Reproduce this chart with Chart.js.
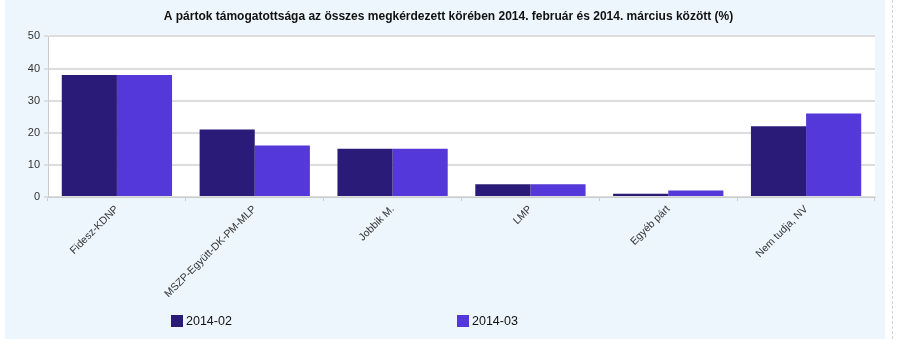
<!DOCTYPE html>
<html>
<head>
<meta charset="utf-8">
<script src="https://cdn.jsdelivr.net/npm/chart.js@4.4.1/dist/chart.umd.min.js"></script>
<style>
  html, body { margin: 0; padding: 0; background: #ffffff; }
  #wrap { position: relative; width: 897px; height: 339px; overflow: hidden; }
  #panel { position: absolute; left: 5px; top: 0; width: 880px; height: 339px; background: #eef6fd; }
  #dash { position: absolute; left: 892px; top: 0; width: 0; height: 339px; border-left: 1px dashed #c8d4e0; }
  #c { position: absolute; left: 0; top: 0; }
</style>
</head>
<body>
<div id="wrap">
  <div id="panel"></div>
  <div id="dash"></div>
  <canvas id="c" width="897" height="339"></canvas>
</div>
<script>
const titleText = "A pártok támogatottsága az összes megkérdezett körében 2014. február és 2014. március között (%)";
const categories = ["Fidesz-KDNP", "MSZP-Együtt-DK-PM-MLP", "Jobbik M.", "LMP", "Egyéb párt", "Nem tudja, NV"];
const seriesNames = ["2014-02", "2014-03"];
const values201402 = [38, 21, 15, 4, 1, 22];
const values201403 = [38, 16, 15, 4, 2, 26];
const yTicks = [0, 10, 20, 30, 40, 50];

const FONT = 'Arial, "Liberation Sans", sans-serif';

const plotBg = {
  id: 'plotBg',
  beforeDraw(chart) {
    const { ctx, chartArea: a } = chart;
    ctx.save();
    ctx.fillStyle = '#ffffff';
    ctx.fillRect(a.left, a.top, a.right - a.left, a.bottom - a.top);
    ctx.restore();
  }
};

// Legend drawn from the datasets, items spread like the original
const spreadLegend = {
  id: 'spreadLegend',
  afterDraw(chart) {
    const { ctx } = chart;
    const xs = [171, 457];
    const yc = 321;
    ctx.save();
    ctx.font = '12.5px ' + FONT;
    ctx.textBaseline = 'middle';
    chart.data.datasets.forEach((ds, i) => {
      const x = xs[i];
      ctx.fillStyle = ds.backgroundColor;
      ctx.fillRect(x, yc - 6, 12, 12);
      ctx.fillStyle = '#111111';
      ctx.fillText(ds.label, x + 15, yc + 1);
    });
    ctx.restore();
  }
};

new Chart(document.getElementById('c'), {
  type: 'bar',
  data: {
    labels: categories,
    datasets: [
      { label: seriesNames[0], data: values201402, backgroundColor: '#2b1b79', borderWidth: 0 },
      { label: seriesNames[1], data: values201403, backgroundColor: '#5438d9', borderWidth: 0 }
    ]
  },
  options: {
    responsive: false,
    animation: false,
    devicePixelRatio: 1,
    layout: { padding: { left: 0, right: 0, top: 0, bottom: 42 } },
    datasets: { bar: { categoryPercentage: 0.8, barPercentage: 1.0 } },
    plugins: {
      title: {
        display: true,
        text: titleText,
        color: '#111111',
        font: { family: FONT, size: 12, weight: 'bold' },
        padding: { top: 9, bottom: 13 }
      },
      legend: { display: false },
      tooltip: { enabled: false }
    },
    scales: {
      x: {
        offset: true,
        grid: { display: true, drawOnChartArea: false, drawTicks: true, tickLength: 4, color: '#cccccc', offset: true },
        border: { display: true, color: '#cccccc', width: 1 },
        ticks: {
          autoSkip: false,
          minRotation: 45,
          maxRotation: 45,
          color: '#333333',
          padding: 2,
          font: { family: FONT, size: 10.5 }
        },
        afterFit(scale) { scale.height = 100; }
      },
      y: {
        min: yTicks[0],
        max: yTicks[yTicks.length - 1],
        ticks: {
          stepSize: yTicks[1] - yTicks[0],
          autoSkip: false,
          color: '#333333',
          padding: 4,
          font: { family: FONT, size: 11 }
        },
        grid: { color: '#dddddd', lineWidth: 2, tickLength: 4, tickColor: '#dddddd' },
        border: { display: true, color: '#cccccc', width: 1 },
        afterFit(scale) { scale.width = 48; }
      },
      yRight: {
        position: 'right',
        display: true,
        grid: { display: false },
        border: { display: false },
        ticks: { display: false },
        afterFit(scale) { scale.width = 22; }
      }
    }
  },
  plugins: [plotBg, spreadLegend]
});
</script>
</body>
</html>
